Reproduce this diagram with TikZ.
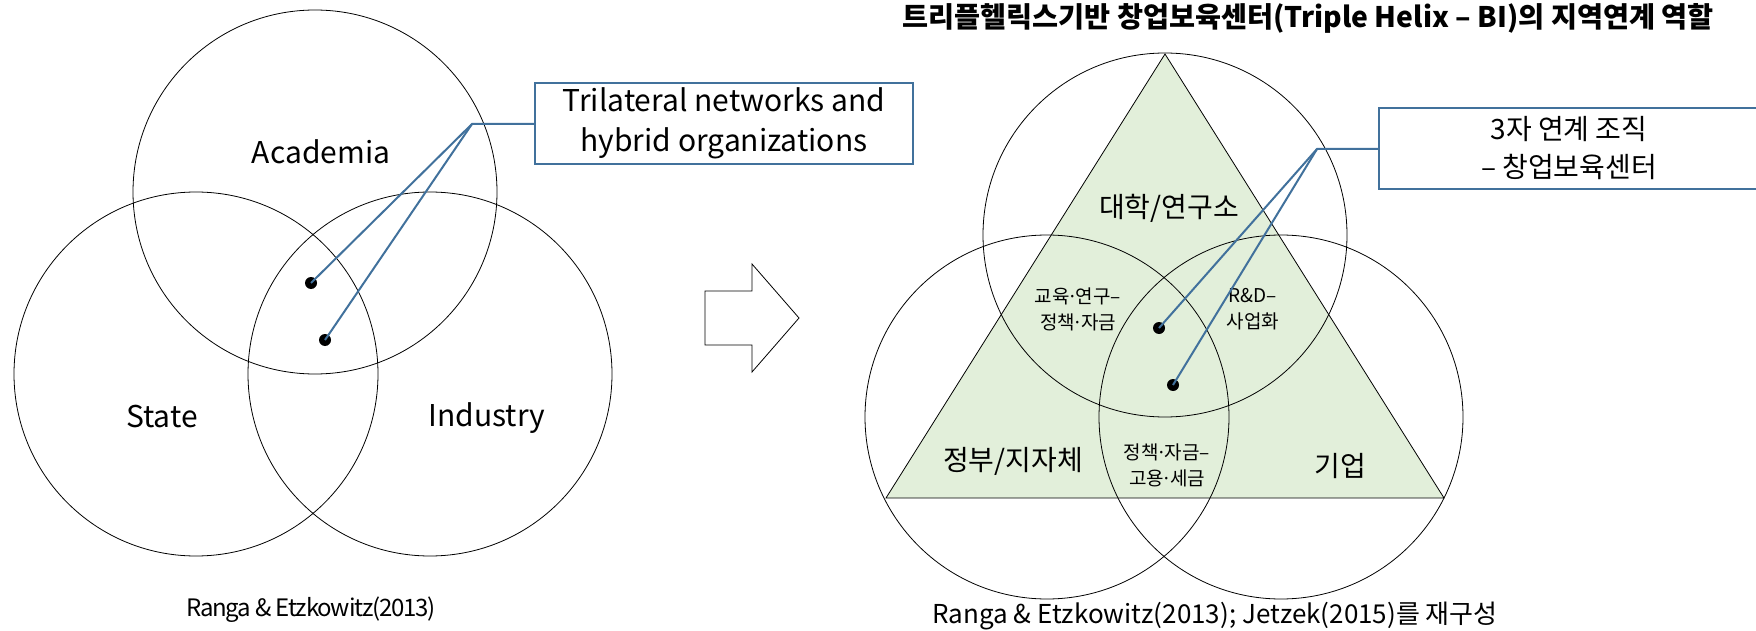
\documentclass[tikz,border=0pt]{standalone}
\usepackage{fontspec}
\setmainfont{Noto Sans CJK KR}
\newfontfamily\tightfont[LetterSpace=-5]{Noto Sans CJK KR}
\usetikzlibrary{positioning}

\definecolor{linkblue}{RGB}{65,113,156}
\definecolor{trifill}{RGB}{226,239,218}

\newcommand{\labelsize}{\fontsize{30}{40}\selectfont}
\newcommand{\hangulsize}{\fontsize{28}{38}\selectfont}
\newcommand{\smallsize}{\fontsize{19}{26}\selectfont}
\newcommand{\mdot}{\kern-0.12em·\kern-0.12em}

\begin{document}
\begin{tikzpicture}[x=1pt,y=-1pt,
    ring/.style={draw=black, line width=0.8pt},
    hub/.style={circle, fill=black, inner sep=0pt, minimum size=12pt},
    link/.style={draw=linkblue, line width=2pt},
    callout/.style={draw=linkblue, line width=2.5pt, align=center, inner sep=0pt,
        minimum height=81pt},
    tag/.style={inner sep=0pt, align=center}]
    \useasboundingbox (0,0) rectangle (1756,631);

    % left: triple helix
    \draw[ring] (315,192) circle (182pt);
    \draw[ring] (196,374) circle (182pt);
    \draw[ring] (430,374) circle (182pt);
    \node[tag, font=\labelsize] (academia) at (321,152) {Academia};
    \node[tag, font=\labelsize] (state) at (162,417) {State};
    \node[tag, font=\labelsize] (industry) at (487,418) {Industry};

    \node[hub] (lhubA) at (311,283) {};
    \node[hub] (lhubB) at (325,340) {};
    \coordinate (ljoint) at (472,124);
    \node[callout, minimum width=378pt, font=\fontsize{30}{40}\selectfont] (lnote) at (724,123.5)
        {Trilateral networks and\\hybrid organizations};
    \draw[link] (lhubA.center) -- (ljoint) -- (ljoint -| lnote.west);
    \draw[link] (lhubB.center) -- (ljoint);

    \node[tag, font=\fontsize{24}{30}\selectfont\tightfont] (lsource) at (311,610) {Ranga \& Etzkowitz(2013)};

    % arrow
    \draw[line width=0.8pt] (705,291) -- (752,291) -- (752,264) -- (799,318)
        -- (752,372) -- (752,345) -- (705,345) -- cycle;

    % right: incubator
    \node[tag, font=\fontsize{28.3}{32}\selectfont\bfseries] (title) at (1308,18)
        {트리플헬릭스기반 창업보육센터(Triple Helix – BI)의 지역연계 역할};

    \draw[fill=trifill, line width=0.8pt] (1165,54) -- (1444,498) -- (886,498) -- cycle;
    \draw[ring] (1165,235) circle (182pt);
    \draw[ring] (1047,417) circle (182pt);
    \draw[ring] (1281,417) circle (182pt);

    \node[tag, font=\hangulsize] (univ) at (1169,208) {대학/연구소};
    \node[tag, font=\hangulsize] (gov) at (1013,461) {정부/지자체};
    \node[tag, font=\hangulsize] (firm) at (1340,466) {기업};
    \node[tag, font=\smallsize] (univgov) at (1078,309) {교육\mdot 연구–\\정책\mdot 자금};
    \node[tag, font=\smallsize] (univfirm) at (1253,309) {R\&D–\\사업화};
    \node[tag, font=\smallsize] (govfirm) at (1167,465) {정책\mdot 자금–\\고용\mdot 세금};

    \node[hub] (rhubA) at (1159,328) {};
    \node[hub] (rhubB) at (1173,385) {};
    \coordinate (rjoint) at (1317,149);
    \node[callout, minimum width=380pt, font=\fontsize{28}{38}\selectfont] (rnote) at (1569,148.5)
        {3자 연계 조직\\– 창업보육센터};
    \draw[link] (rhubA.center) -- (rjoint) -- (rjoint -| rnote.west);
    \draw[link] (rhubB.center) -- (rjoint);

    \node[tag, font=\fontsize{26}{30}\selectfont] (rsource) at (1215,616)
        {Ranga \& Etzkowitz(2013); Jetzek(2015)를 재구성};
\end{tikzpicture}
\end{document}
